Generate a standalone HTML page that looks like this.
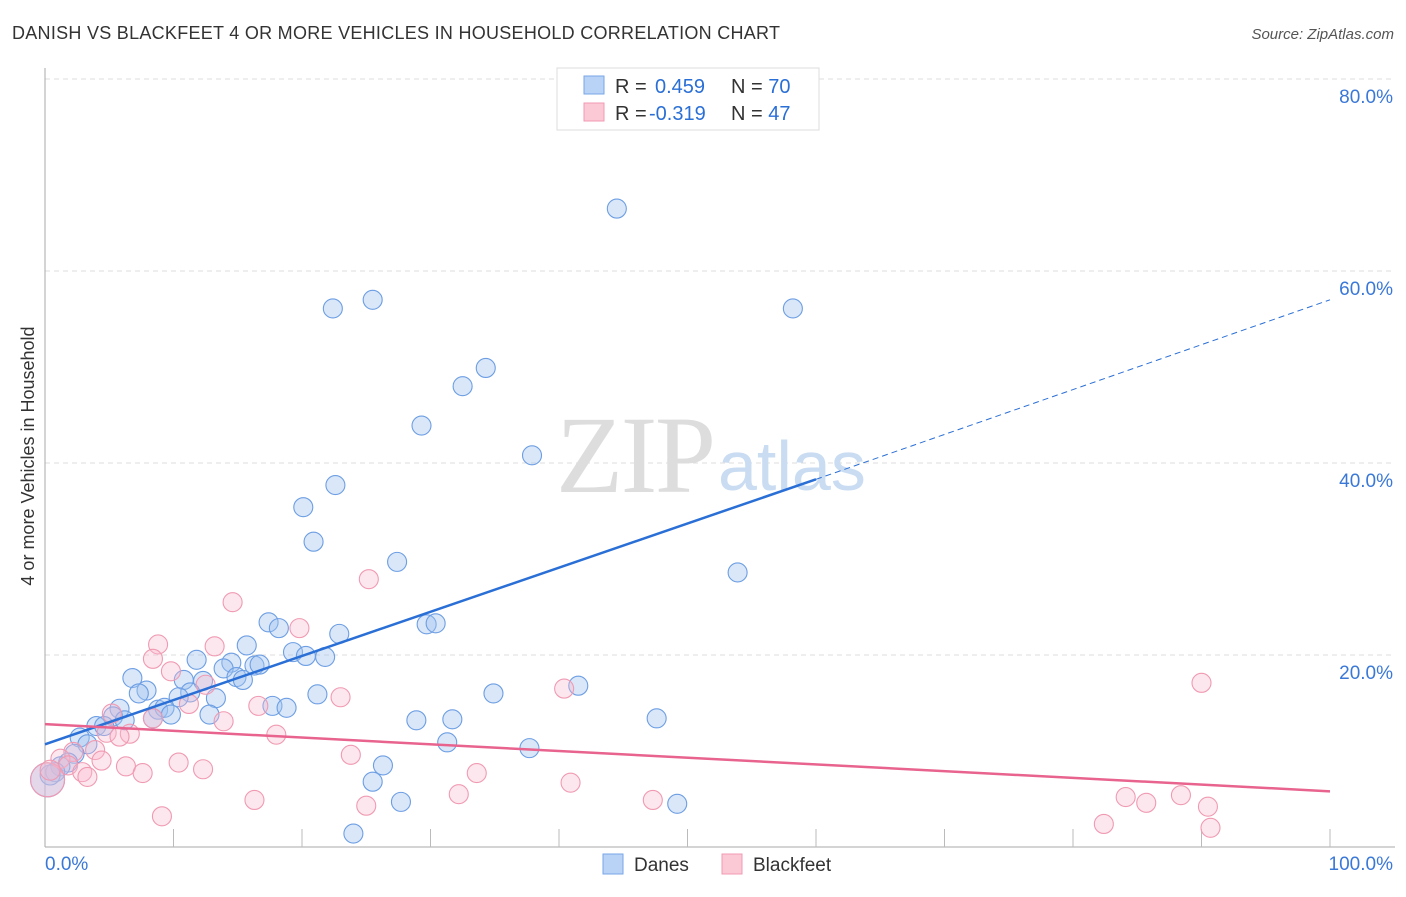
<!DOCTYPE html>
<html><head><meta charset="utf-8"><style>
body{margin:0;background:#fff;font-family:"Liberation Sans",sans-serif;}
</style></head><body>
<svg id="c" width="1406" height="892" xmlns="http://www.w3.org/2000/svg">
<text x="12" y="39" font-size="18" fill="#333" textLength="768">DANISH VS BLACKFEET 4 OR MORE VEHICLES IN HOUSEHOLD CORRELATION CHART</text>
<text x="1394" y="39" font-size="15" fill="#555" font-style="italic" text-anchor="end">Source: ZipAtlas.com</text>
<text x="34" y="456" font-size="18" fill="#333" text-anchor="middle" transform="rotate(-90 34 456)">4 or more Vehicles in Household</text>
<g id="grid"></g>
<text x="716" y="492" font-size="110" fill="#ddd" font-family="Liberation Serif,serif" text-anchor="end" textLength="160">ZIP</text>
<text x="718" y="490" font-size="70" fill="#c9dcf2">atlas</text>
<g id="pts"></g>
<g id="lines"></g>
<g>
<rect x="557" y="68" width="262" height="62" fill="#fff" stroke="#ddd"/>
<rect x="584" y="76" width="20" height="18" fill="#b8d3f5" stroke="#7aa6e6"/>
<rect x="584" y="103" width="20" height="18" fill="#fbc8d6" stroke="#f09ab2"/>
<text x="615" y="93" font-size="20" fill="#333">R = <tspan fill="#2a6fd6" x="655">0.459</tspan><tspan x="731" fill="#333">N = </tspan><tspan fill="#2a6fd6">70</tspan></text>
<text x="615" y="120" font-size="20" fill="#333">R = <tspan fill="#2a6fd6" x="649">-0.319</tspan><tspan x="731" fill="#333">N = </tspan><tspan fill="#2a6fd6">47</tspan></text>
</g>
<g>
<rect x="603" y="854" width="20" height="20" fill="#b8d3f5" stroke="#7aa6e6"/>
<text x="634" y="871" font-size="19" fill="#333">Danes</text>
<rect x="722" y="854" width="20" height="20" fill="#fbc8d6" stroke="#f09ab2"/>
<text x="753" y="871" font-size="19" fill="#333">Blackfeet</text>
</g>
</svg>
<script>
const yTicks=[20,40,60,80];
const xTickLabels=["0.0%","100.0%"];
const danesX=[44.5,22.4,25.5,58.2,34.3,32.5,29.3,37.9,22.6,20.1,20.9,27.4,53.9,17.4,18.2,22.9,29.7,30.4,15.7,19.3,20.3,21.8,11.8,14.5,16.3,16.7,13.9,14.9,15.4,6.8,7.9,10.8,12.3,11.3,7.3,10.4,13.3,21.2,34.9,41.5,17.7,18.8,5.8,8.8,9.3,5.3,8.4,9.8,12.8,28.9,31.7,47.6,4.0,4.6,6.2,2.7,3.3,2.3,31.3,37.7,1.8,1.2,0.8,0.4,26.3,25.5,27.7,49.2,24.0,0.2];
const danesY=[66.5,56.1,57.0,56.1,49.9,48.0,43.9,40.8,37.7,35.4,31.8,29.7,28.6,23.4,22.8,22.2,23.2,23.3,21.0,20.3,19.9,19.8,19.5,19.2,18.9,19.0,18.6,17.7,17.4,17.6,16.3,17.4,17.3,16.1,16.0,15.6,15.5,15.9,16.0,16.8,14.7,14.5,14.4,14.3,14.5,13.6,13.4,13.8,13.8,13.2,13.3,13.4,12.6,12.6,13.2,11.4,10.7,9.7,10.9,10.3,8.8,8.4,7.8,7.5,8.5,6.8,4.7,4.5,1.4,7.0];
const bfX=[14.6,25.2,8.8,19.8,13.2,8.4,9.8,12.5,23.0,40.4,90.0,5.2,8.4,11.2,16.6,13.9,4.8,6.6,5.8,18.0,3.9,2.2,4.4,1.2,1.8,2.9,3.3,6.3,7.6,10.4,12.3,23.8,33.6,40.9,32.2,16.3,25.0,47.3,84.1,85.7,88.4,90.5,82.4,90.7,9.1,0.2,0.4];
const bfY=[25.5,27.9,21.1,22.8,20.9,19.6,18.3,16.9,15.6,16.5,17.1,13.9,13.4,14.9,14.7,13.1,11.9,11.8,11.5,11.7,10.1,9.9,9.0,9.2,8.5,7.8,7.3,8.4,7.7,8.8,8.1,9.6,7.7,6.7,5.5,4.9,4.3,4.9,5.2,4.6,5.4,4.2,2.4,2.0,3.2,7.0,8.0];
const blueTrend=[0,10.7,60,38.3,100,57.0];
const pinkTrend=[0,12.8,100,5.8];
const sx=v=>45+v*12.85, sy=v=>847-v*9.6;
const NS="http://www.w3.org/2000/svg";
function mk(t,a,p){const e=document.createElementNS(NS,t);for(const k in a)e.setAttribute(k,a[k]);p.appendChild(e);return e;}
const g=document.getElementById('grid');
for(const t of yTicks){const l=mk('line',{x1:45,x2:1395,y1:sy(t),y2:sy(t),stroke:'#ddd','stroke-dasharray':'5,4'},g);


const tx=mk('text',{x:1393,y:sy(t)+24,'font-size':19,fill:'#3a78d8','text-anchor':'end'},g);tx.textContent=t.toFixed(1)+'%';

}
mk('line',{x1:45,x2:45,y1:68,y2:847,stroke:'#aaa'},g);
mk('line',{x1:45,x2:1395,y1:847,y2:847,stroke:'#aaa'},g);
for(let i=1;i<=10;i++){mk('line',{x1:sx(i*10),x2:sx(i*10),y1:829,y2:847,stroke:'#bbb'},g);}
xTickLabels.forEach((s,i)=>{const tx=mk('text',{x:i?1393:45,y:870,'font-size':19,fill:'#3a78d8','text-anchor':i?'end':'start'},g);tx.textContent=s;

});
const p=document.getElementById('pts');
function dots(X,Y,f,s,name){X.forEach((x,i)=>{const r=(x<0.5)?(Y[i]==7.0?17:10):9.5;const c=mk('circle',{cx:sx(x),cy:sy(Y[i]),r:r,fill:f,stroke:s,'stroke-width':1.1},p);

});}
dots(danesX,danesY,'rgba(160,196,240,0.4)','#6d9ee3','danes-point');
dots(bfX,bfY,'rgba(250,185,205,0.35)','#f09ab2','blackfeet-point');
const L=document.getElementById('lines');
const b1=mk('line',{x1:sx(blueTrend[0]),y1:sy(blueTrend[1]),x2:sx(blueTrend[2]),y2:sy(blueTrend[3]),stroke:'#2a6fd6','stroke-width':2.5},L);


const b2=mk('line',{x1:sx(blueTrend[2]),y1:sy(blueTrend[3]),x2:sx(blueTrend[4]),y2:sy(blueTrend[5]),stroke:'#2a6fd6','stroke-width':1,'stroke-dasharray':'6,4'},L);


const p1=mk('line',{x1:sx(pinkTrend[0]),y1:sy(pinkTrend[1]),x2:sx(pinkTrend[2]),y2:sy(pinkTrend[3]),stroke:'#e8638e','stroke-width':2.5},L);


</script>
</body></html>
